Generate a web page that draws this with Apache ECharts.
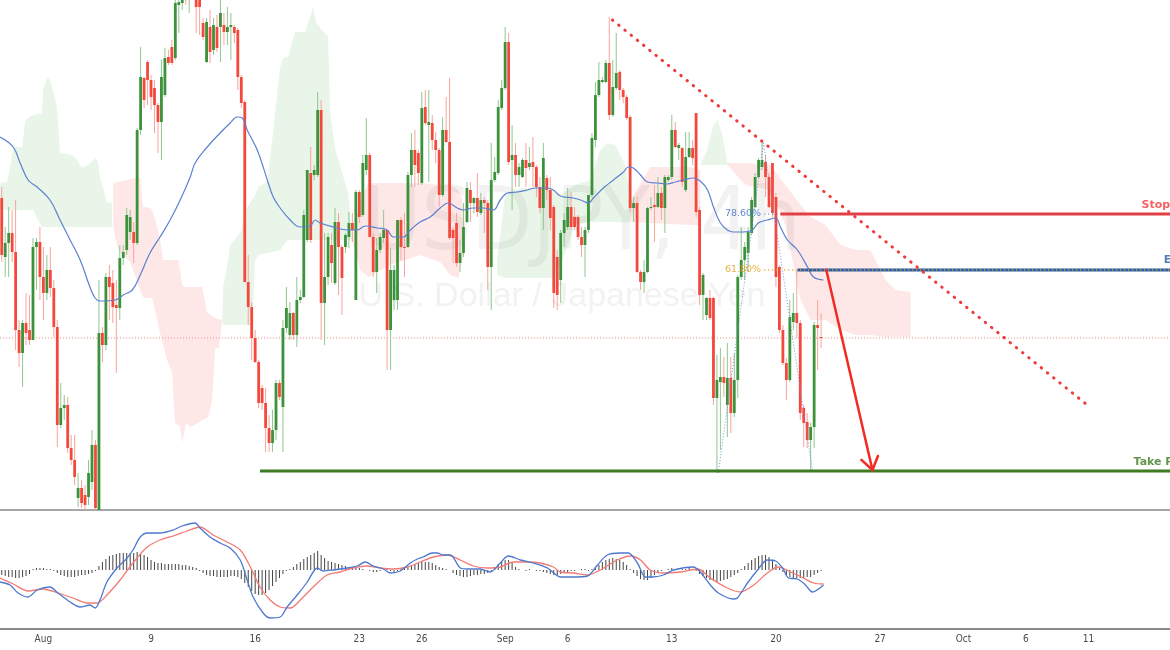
<!DOCTYPE html>
<html><head><meta charset="utf-8">
<script src="https://cdn.jsdelivr.net/npm/echarts@6/dist/echarts.min.js"></script>
<style>html,body{margin:0;padding:0;background:#fff}#c{width:1170px;height:650px}</style>
</head><body><div id="c"></div>
<script>
// ---- price data (4h candles), arbitrary price units ----
const candleOpen = [312,253,267,277,258,180,157,187,180,170,263,268,233,217,240,222,183,85,102,105,62,50,12,22,15,13,28,65,0,177,165,233,227,205,202,252,260,278,278,267,380,432,448,430,422,405,388,415,453,463,452,505,507,525,512,535,518,513,487,448,483,460,483,483,485,478,483,483,480,433,408,228,203,172,148,122,107,82,67,80,127,103,182,175,197,175,210,213,270,337,335,335,400,207,233,265,227,288,263,263,273,287,210,318,295,340,355,273,238,260,272,280,180,210,210,290,263,263,335,360,357,327,403,385,387,370,360,315,380,368,280,287,247,257,288,320,307,312,297,310,307,243,330,337,402,422,468,350,355,335,333,350,343,348,343,323,302,332,320,303,253,230,277,283,303,293,293,273,265,280,315,370,415,428,428,447,395,422,438,420,413,393,302,307,238,228,238,302,305,303,317,302,330,333,380,362,362,320,353,362,397,300,215,195,212,212,112,128,133,105,132,97,130,233,250,257,277,303,333,343,348,333,347,313,243,180,147,130,188,197,187,102,88,70,83,185,173];
const candleClose = [255,267,277,258,180,157,187,177,170,263,268,233,217,240,222,183,85,102,105,62,50,33,22,7,5,37,65,2,177,165,233,223,203,202,252,258,295,293,267,380,433,410,430,413,405,388,433,452,447,447,507,508,515,512,525,520,503,503,473,488,458,485,462,497,478,483,485,477,433,407,228,203,172,148,107,107,82,67,80,127,113,182,202,197,175,210,213,295,340,270,340,400,207,233,273,247,288,263,232,275,287,280,318,293,347,355,273,238,260,273,280,180,240,240,290,263,262,335,360,345,337,402,387,388,370,360,315,380,368,272,272,247,257,283,322,307,312,298,310,307,243,330,338,403,422,468,348,355,335,343,350,342,347,343,323,302,352,320,292,217,215,277,290,303,283,283,273,265,280,315,372,415,430,430,447,395,423,437,420,413,392,302,307,238,228,238,302,303,303,317,302,333,333,380,363,365,328,353,362,352,298,215,235,212,192,112,130,133,127,132,97,130,233,250,263,278,310,333,350,350,333,303,297,233,180,147,130,193,197,187,97,87,70,83,185,182,172];
const candleHigh = [323,283,303,300,310,190,190,217,215,272,272,283,263,255,263,230,190,127,115,113,75,75,37,30,25,50,80,70,230,183,237,245,240,230,265,265,302,300,288,382,463,433,450,435,430,407,450,462,460,470,510,515,520,530,530,540,522,520,492,492,500,492,495,510,497,503,497,485,482,435,410,255,208,180,150,125,122,95,100,130,130,190,223,208,198,233,220,300,340,363,345,418,410,277,277,277,302,297,265,277,298,297,320,320,355,392,357,277,272,277,300,280,262,245,290,293,297,338,377,380,360,418,420,420,395,378,362,393,413,432,283,297,270,307,328,328,313,337,317,313,310,367,353,410,430,483,477,385,367,347,352,367,363,373,345,333,367,335,333,305,260,280,297,322,318,303,295,283,283,315,377,428,448,433,450,493,450,477,440,422,415,395,313,313,240,250,303,313,325,333,323,335,335,395,388,367,363,378,378,370,397,303,237,213,220,213,155,162,153,167,153,157,235,283,268,283,313,337,352,368,355,337,347,317,245,185,152,210,217,240,190,105,97,87,188,210,197];
const candleLow = [248,233,233,248,160,143,123,165,165,170,220,210,190,210,213,173,63,82,90,57,45,25,3,2,0,5,20,-5,-5,148,160,190,187,137,190,245,255,270,247,265,375,402,405,400,377,357,350,413,445,445,450,477,500,505,497,512,477,475,470,447,447,455,458,448,465,465,450,467,420,402,228,185,150,147,102,100,58,58,58,70,110,58,177,170,170,163,207,212,268,267,330,333,170,165,225,227,225,215,195,257,262,268,210,287,293,335,273,233,217,257,267,140,140,200,200,250,233,262,323,323,325,325,385,328,360,347,303,313,367,270,247,243,238,253,287,288,297,293,295,277,220,200,328,335,400,420,345,300,323,323,332,323,340,323,313,297,280,310,280,202,200,207,263,280,280,280,270,253,233,277,313,363,413,427,427,390,393,420,410,407,390,298,288,237,220,217,237,300,268,302,290,277,328,330,362,350,323,318,352,345,293,205,190,190,190,105,37,60,113,73,77,93,112,230,230,238,275,302,332,340,313,302,293,223,177,145,110,128,180,172,90,63,62,40,62,140,162];

// moving average, read as [candle index, value]
const maPoints = [[-0.5,373],[3.3,363],[5.3,347],[7.6,330],[10.2,323],[13.9,310],[16.8,290],[19.7,270],[22.6,250],[25.4,223],[26.9,212],[28.3,209],[32.7,210],[35.0,215],[37.6,220],[39.9,235],[42.7,257],[45.6,273],[48.5,290],[51.4,310],[54.3,333],[55.7,347],[59.2,363],[62.9,377],[65.8,387],[67.8,393],[69.3,392],[70.7,380],[73.6,360],[76.5,330],[78.2,313],[80.2,302],[83.1,290],[86.0,283],[88.8,284],[90.3,290],[91.7,287],[95.5,283],[99.5,280],[102.4,280],[104.7,284],[108.2,282],[111.0,280],[112.8,273],[115.6,273],[117.7,280],[120.5,288],[123.4,293],[126.3,302],[128.6,307],[131.2,302],[132.9,300],[135.8,302],[138.7,302],[141.6,300],[143.6,310],[145.6,317],[148.5,318],[151.4,320],[153.7,322],[157.2,322],[158.9,320],[160.9,314],[164.6,312],[166.7,310],[169.0,307],[170.4,312],[173.3,322],[176.2,330],[179.1,338],[180.5,343],[181.9,342],[184.0,335],[186.0,328],[188.8,327],[191.7,326],[194.0,328],[196.3,330],[199.2,332],[201.2,329],[203.3,320],[205.0,303],[207.0,287],[209.0,280],[210.7,278],[213.6,278],[216.2,280],[217.9,287],[220.5,290],[222.9,292],[224.3,283],[226.3,270],[229.2,260],[232.1,243],[233.8,233],[236.7,230]];

// ichimoku cloud pieces: [candle index, upper, lower]
const cloudGreenA = [[-0.5,327,300],[1.5,328,300],[2.4,343,300],[3.3,363,300],[5.9,363,300],[6.7,388,300],[7.6,392,300],[9.0,395,300],[10.5,396,290],[11.6,397,283],[11.9,420,283],[13.1,433,283],[13.9,430,283],[15.4,410,283],[15.9,403,283],[16.8,357,283],[20.3,355,283],[21.7,350,283],[23.1,342,283],[24.9,345,283],[26.9,352,283],[27.8,347,283],[28.3,333,283],[30.3,308,283],[31.8,307,283]];
const cloudRedA = [[32.1,327,283],[33.5,328,260],[37.0,331,248],[39.9,333,220],[40.7,303,213],[41.3,303,212],[42.7,302,212],[43.3,300,212],[44.8,283,190],[45.6,270,177],[46.5,250,165],[47.6,250,150],[49.1,250,137],[49.9,250,87],[50.8,250,85],[51.4,240,83],[52.0,225,67],[53.1,223,87],[54.3,223,83],[57.1,223,88],[57.7,223,90],[59.2,197,92],[59.5,197,93],[60.6,194,110],[61.5,192,162],[62.6,191,162],[63.5,190,190]];
const cloudGreenB = [[63.5,190,190],[63.8,223,185],[64.9,243,185],[65.8,265,185],[68.7,277,185],[70.7,303,185],[72.1,310,185],[73.0,315,250],[73.9,323,255],[76.5,328,257],[77.9,370,258],[80.2,443,260],[81.1,452,265],[82.5,453,270],[84.5,478,270],[87.4,478,270],[88.8,493,270],[89.7,503,270],[90.6,487,270],[92.3,480,270],[94.0,473,270],[94.6,397,270],[96.1,360,270],[98.4,333,270],[99.8,317,270],[100.4,293,270],[100.9,270,270]];
const cloudRedB = [[100.9,270,270],[103.3,310,240],[105.6,327,233],[111.9,327,245],[120.5,327,255],[126.3,325,248],[129.2,325,235],[131.5,320,232],[132.7,310,250],[133.5,270,270]];
const cloudGreenC = [[142.7,250,235],[145.0,315,232],[149.4,322,232],[155.1,322,232],[158.9,320,232],[160.9,315,245],[165.2,325,285],[169.5,330,288],[172.4,360,288],[174.4,367,288],[176.7,365,288],[179.6,345,288],[181.1,310,288]];
const cloudRedC = [[181.1,310,288],[186.8,343,287],[198.4,343,285],[201.2,340,285]];
const cloudGreenD = [[201.2,345,345],[203.2,360,345],[205.0,385,345],[206.1,390,345],[207.6,375,345],[209.0,347,345]];
const cloudRedD = [[209.0,347,345],[214.2,347,325],[221.4,345,320],[225.7,325,285],[230.1,305,210],[233.0,293,190],[237.3,285,190],[241.6,265,180],[246.0,260,175],[250.2,260,175],[254.6,230,173],[257.4,220,173],[261.8,218,173]];

// MACD panel
const macdLine = [[-0.5,-12],[2.4,-15],[4.7,-23],[7.6,-27],[10.2,-20],[13.9,-17],[16.2,-23],[19.7,-32],[22.6,-37],[25.4,-35],[26.9,-38],[28.3,-30],[30.3,-12],[33.2,2],[36.1,12],[37.8,20],[39.9,33],[41.9,37],[45.6,37],[49.4,40],[51.9,44],[55.7,47],[57.1,42],[60.0,33],[62.9,27],[65.8,22],[68.7,10],[70.7,-10],[72.4,-27],[75.3,-43],[77.3,-48],[80.2,-47],[82.2,-37],[85.1,-25],[88.0,-12],[89.7,-2],[90.9,2],[92.6,-1],[95.5,0],[99.5,2],[102.4,4],[104.7,8],[107.0,4],[109.9,1],[111.9,-3],[114.8,-1],[117.7,7],[119.7,11],[121.4,13],[124.0,17],[125.4,17],[127.2,15],[129.2,15],[132.1,2],[134.1,1],[137.8,1],[140.7,-2],[143.6,7],[145.9,14],[149.4,10],[153.1,7],[157.2,2],[160.9,-7],[164.6,-7],[168.7,-6],[171.6,5],[174.4,15],[178.2,17],[180.5,17],[183.1,7],[185.4,-7],[187.4,-7],[190.6,-5],[193.5,0],[199.2,3],[201.2,-2],[204.1,-15],[206.4,-23],[210.7,-29],[211.9,-28],[214.8,-13],[217.7,0],[220.5,10],[222.9,9],[224.9,2],[226.6,-8],[229.2,-9],[231.5,-15],[233.5,-22],[236.7,-15]];
const signalLine = [[-0.5,-8],[3.3,-14],[7.6,-21],[11.9,-19],[16.2,-23],[20.5,-28],[24.6,-33],[27.5,-33],[30.3,-25],[34.1,-10],[37.8,7],[41.9,23],[45.6,30],[49.4,34],[53.4,39],[57.1,43],[60.9,35],[64.9,28],[68.7,20],[71.6,3],[74.4,-17],[77.3,-30],[80.2,-37],[83.1,-38],[86.0,-30],[89.7,-17],[93.7,-5],[97.5,-2],[101.2,2],[105.3,4],[109.0,2],[112.8,1],[116.8,3],[120.5,8],[124.3,13],[128.3,15],[132.1,10],[135.8,4],[139.9,2],[143.6,3],[147.4,8],[151.4,8],[155.1,7],[158.9,3],[160.9,-2],[164.6,-3],[168.7,-5],[172.4,0],[177.3,10],[181.1,14],[184.0,10],[186.8,0],[190.6,-3],[195.5,-2],[200.4,1],[204.1,-8],[209.0,-18],[212.8,-22],[216.6,-15],[220.5,-3],[223.7,3],[227.2,-2],[230.9,-8],[233.8,-13],[236.7,-14]];
const macdHist = [-5,-6,-7,-7,-8,-8,-7,-6,-4, 1,2,2,2,1,1,-1, -3,-5,-6,-7,-7,-7,-6,-5,-5,-4,-3, -1, 4,8,11,14,15,16,17,17,17,17,17,18,17,15,13,10, 8,7,7,6,6,6,6,6,5,5,4,3,2, -1,-3,-5,-6,-6,-7,-7,-7,-7,-6,-6,-7,-9, -13,-17,-21,-24,-25,-25,-23,-20,-16,-12,-8, -4,-1,1, 3,6,8,11,13,15,17,19, 15,12,9,8,7,6,5,4,3,3,3, 2,1,0,-1,-2,-2,-1,0,1,-1,-2,-1,1,2,3,4, 6,7,8,8,8,7,5, 3,2,1,0, -3,-5,-6,-7,-7,-6,-5,-5,-4,-4,-3, -1,2, 6,9,10,10,7, 3,1,0,-1,1,0,-1,-1,-2, -3,-4,-5,-5,-4, -3,-2,-1,-1,0,1,1,-1,1, 3,5,8,10,11,12,11,10,8,5, 1,-3,-6,-9,-10,-10,-8, -5,-3,-1,0,1,2,1,0,1,1,2,1, -1,-4,-6,-8,-10,-11,-12,-11,-10,-9,-7,-5,-3, 1,4,7,10,12,14,15,15,13,10, 6,2,-2,-5,-7,-8,-8,-8,-8,-7,-7,-5,-3,-1];

// axis ticks (candle slot index -> label)
const tickPos = [12,43,73,103,121,145,163,193,223,253,277,295,313];
const tickText = ['Aug','9','16','23','26','Sep','6','13','20','27','Oct','6','11'];

// trade annotations
const lastPriceLevel = 172;
const stopLevel = 296, entryLevel = 240, takeProfitLevel = 39;
const stopStart = 224.3, entryStart = 229.2, takeProfitStart = 74.4, fibLabelAt = 219.6, slotEnd = 336.5;
const trendLine = [[175.9,490],[313.0,104]];
const fibSwing = [[206.4,37],[219.4,367],[233.5,40]];
const arrowPath = [[237.5,240],[250.8,40]];

const chart = echarts.init(document.getElementById('c'), null, {renderer:'canvas'});

function cloudSeries(pts, fill){
  return {type:'custom', xAxisIndex:0, yAxisIndex:0, silent:true, z:1, clip:true,
    data:[[pts[0][0], pts[0][1]]],
    renderItem:function(params, api){
      const top = pts.map(p=>api.coord([p[0],p[1]]));
      const bot = pts.slice().reverse().map(p=>api.coord([p[0],p[2]]));
      return {type:'polygon', shape:{points:top.concat(bot)}, style:{fill:fill}};
    }};
}
function hLine(level, from, color, width, type, z){
  return {type:'line', xAxisIndex:0, yAxisIndex:0, silent:true, symbol:'none', z:z||6,
    data:[[from, level],[slotEnd, level]], lineStyle:{color:color, width:width, type:type||'solid'}};
}
function tagSeries(k, level, text, color, dy){
  return {type:'scatter', xAxisIndex:0, yAxisIndex:0, silent:true, symbolSize:0, z:10,
    data:[[k, level]],
    label:{show:true, position:[0, dy], formatter:text, color:color, fontWeight:'bold',
      fontSize:11, fontFamily:'DejaVu Sans', align:'left', verticalAlign:'middle'}};
}
function fibTag(level, text, color){
  return {type:'scatter', xAxisIndex:0, yAxisIndex:0, silent:true, symbolSize:0, z:10,
    data:[[fibLabelAt, level]],
    label:{show:true, position:'left', distance:3, formatter:text, color:color,
      fontSize:9.5, fontFamily:'DejaVu Sans'}};
}

const candleData = candleOpen.map((o,i)=>[i,o,candleClose[i],candleLow[i],candleHigh[i]]);

const option = {
  animation:false,
  backgroundColor:'#ffffff',
  grid:[{left:0,right:0,top:0,height:510},{left:0,right:0,top:511,height:118}],
  xAxis:[
    {type:'value', gridIndex:0, min:-0.5, max:slotEnd, axisLabel:{show:false}, axisTick:{show:false}, splitLine:{show:false},
      axisLine:{show:true, onZero:false, lineStyle:{color:'#8a8a8a', width:1.5}}},
    {type:'value', gridIndex:1, min:-0.5, max:slotEnd, splitLine:{show:false}, axisTick:{show:false},
      axisLine:{show:true, onZero:false, lineStyle:{color:'#8a8a8a', width:2}},
      axisLabel:{customValues:tickPos, formatter:function(v){const i=tickPos.indexOf(Math.round(v));return i>=0?tickText[i]:'';},
        color:'#4a4a4a', fontSize:10, margin:5, fontFamily:"'Liberation Sans Narrow','DejaVu Sans Condensed','Roboto',sans-serif"}}
  ],
  yAxis:[
    {type:'value', gridIndex:0, min:0, max:510, show:false},
    {type:'value', gridIndex:1, min:-59, max:59, show:false}
  ],
  graphic:[
    {type:'text', x:582, y:226, z:0, silent:true, style:{text:'USDJPY, 4h', fill:'rgba(110,110,110,0.085)', font:"88px 'Liberation Sans Narrow','DejaVu Sans Condensed','Liberation Sans',sans-serif", textAlign:'center', textVerticalAlign:'middle'}},
    {type:'text', x:562, y:297, z:0, silent:true, style:{text:'U.S. Dollar / Japanese Yen', fill:'rgba(110,110,110,0.085)', font:"34px 'Liberation Sans','Open Sans',sans-serif", textAlign:'center', textVerticalAlign:'middle'}}
  ],
  series:[
    cloudSeries(cloudGreenA,'rgba(76,175,80,0.13)'),
    cloudSeries(cloudRedA,'rgba(244,67,54,0.12)'),
    cloudSeries(cloudGreenB,'rgba(76,175,80,0.13)'),
    cloudSeries(cloudRedB,'rgba(244,67,54,0.12)'),
    cloudSeries(cloudGreenC,'rgba(76,175,80,0.13)'),
    cloudSeries(cloudRedC,'rgba(244,67,54,0.12)'),
    cloudSeries(cloudGreenD,'rgba(76,175,80,0.13)'),
    cloudSeries(cloudRedD,'rgba(244,67,54,0.12)'),
    {type:'line', xAxisIndex:0, yAxisIndex:0, silent:true, symbol:'none', z:2,
      data:[[-0.5,lastPriceLevel],[slotEnd,lastPriceLevel]], lineStyle:{color:'#f08a84', width:1, type:[1,2]}},
    {type:'custom', xAxisIndex:0, yAxisIndex:0, clip:true, z:4, silent:true,
      data:candleData, encode:{x:0, y:[1,2,3,4]},
      renderItem:function(params, api){
        const i=api.value(0), o=api.value(1), c=api.value(2), lo=api.value(3), hi=api.value(4);
        const po=api.coord([i,o]), pc=api.coord([i,c]), pl=api.coord([i,lo]), ph=api.coord([i,hi]);
        const bull = c>=o;
        const x = po[0];
        const bw = 2.8;
        const yTop = Math.min(po[1],pc[1]);
        const h = Math.max(1, Math.abs(po[1]-pc[1]));
        return {type:'group', children:[
          {type:'line', shape:{x1:x,y1:ph[1],x2:x,y2:pl[1]}, style:{stroke: bull?'#8fc78f':'#f7a49d', lineWidth:1}},
          {type:'rect', shape:{x:x-bw/2, y:yTop, width:bw, height:h}, style:{fill: bull?'#3b923b':'#f5483c'}}
        ]};
      }},
    {type:'line', xAxisIndex:0, yAxisIndex:0, silent:true, symbol:'none', smooth:0.4, z:5,
      data:maPoints, lineStyle:{color:'#5a80cf', width:1.2}},
    {type:'line', xAxisIndex:0, yAxisIndex:0, silent:true, symbol:'none', z:6,
      data:fibSwing, lineStyle:{color:'#6e95dd', width:1, type:[1,2]}},
    {type:'line', xAxisIndex:0, yAxisIndex:0, silent:true, symbol:'none', z:7,
      data:trendLine, lineStyle:{color:'#f03a3a', width:3, type:[0.5,7.5], cap:'round'}},
    hLine(takeProfitLevel, takeProfitStart, '#3f7b21', 3),
    hLine(stopLevel, stopStart, '#f23a3a', 3),
    hLine(stopLevel, fibLabelAt, '#3f6fc4', 1.2, [1,3], 8),
    hLine(entryLevel, entryStart, '#2a5fa6', 3),
    hLine(entryLevel, fibLabelAt, '#eea01f', 1.3, [1,3], 8),
    fibTag(stopLevel, '78.60%', '#3a6cc2'),
    fibTag(entryLevel, '61.80%', '#e89a18'),
    tagSeries(328.3, stopLevel, 'Stop Loss', '#f23a3a', -9),
    tagSeries(334.7, entryLevel, 'Entry', '#2a5fa6', -10),
    tagSeries(326.0, takeProfitLevel, 'Take Profit', '#3f7b21', -9),
    {type:'custom', xAxisIndex:0, yAxisIndex:0, silent:true, z:9,
      data:[[arrowPath[0][0],arrowPath[0][1]]],
      renderItem:function(params, api){
        const a=api.coord(arrowPath[0]), b=api.coord(arrowPath[1]);
        const ang=Math.atan2(b[1]-a[1], b[0]-a[0]);
        const L=15, sp=0.6;
        const h1=[b[0]-L*Math.cos(ang-sp), b[1]-L*Math.sin(ang-sp)];
        const h2=[b[0]-L*Math.cos(ang+sp), b[1]-L*Math.sin(ang+sp)];
        const st={stroke:'#f22a22', fill:null, lineWidth:2.5, lineCap:'round'};
        return {type:'group', children:[
          {type:'line', shape:{x1:a[0],y1:a[1],x2:b[0],y2:b[1]}, style:st},
          {type:'line', shape:{x1:h1[0],y1:h1[1],x2:b[0],y2:b[1]}, style:st},
          {type:'line', shape:{x1:h2[0],y1:h2[1],x2:b[0],y2:b[1]}, style:st}
        ]};
      }},
    {type:'bar', xAxisIndex:1, yAxisIndex:1, silent:true, barWidth:1, z:2,
      data:macdHist.map((v,i)=>[i,v]), itemStyle:{color:'#444444'}},
    {type:'line', xAxisIndex:1, yAxisIndex:1, silent:true, symbol:'none', smooth:0.3, z:4,
      data:macdLine, lineStyle:{color:'#4d78d0', width:1.3}},
    {type:'line', xAxisIndex:1, yAxisIndex:1, silent:true, symbol:'none', smooth:0.3, z:3,
      data:signalLine, lineStyle:{color:'#f47a74', width:1.3}}
  ]
};
chart.setOption(option);
</script>
</body></html>
